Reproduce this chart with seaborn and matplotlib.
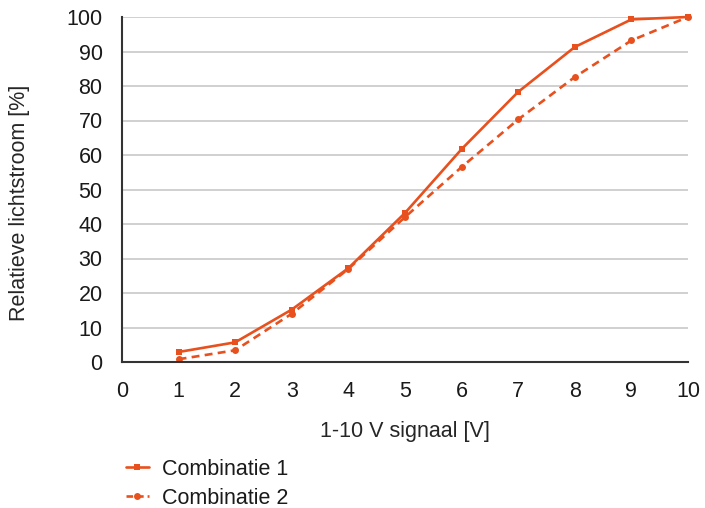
import matplotlib
matplotlib.use("Agg")
import matplotlib.pyplot as plt
import seaborn as sns
import pandas as pd
from matplotlib.lines import Line2D

signal = [1, 2, 3, 4, 5, 6, 7, 8, 9, 10]
combinatie_1 = [2.9, 5.7, 15.2, 27.2, 43.2, 61.7, 78.3, 91.3, 99.3, 100]
combinatie_2 = [0.8, 3.4, 14.0, 27.0, 42.0, 56.5, 70.3, 82.6, 93.2, 100]
series_names = ["Combinatie 1", "Combinatie 2"]
x_ticks = list(range(0, 11))
y_ticks = list(range(0, 101, 10))

df = pd.DataFrame({
    "x": signal * 2,
    "y": combinatie_1 + combinatie_2,
    "serie": [series_names[0]] * len(signal) + [series_names[1]] * len(signal),
})

sns.set_style("white")
plt.rcParams["font.family"] = ["Liberation Sans", "DejaVu Sans"]
plt.rcParams["text.color"] = "#1a1a1a"
plt.rcParams["xtick.color"] = "#1a1a1a"
plt.rcParams["ytick.color"] = "#1a1a1a"

color = "#E8501E"
fs = 15.5
fig = plt.figure(figsize=(7.05, 5.08), dpi=100)
ax = fig.add_axes([122 / 705, 1 - 362 / 508, (688 - 122) / 705, (362 - 17) / 508])

sns.lineplot(data=df, x="x", y="y", hue="serie", style="serie",
             palette=[color, color], dashes=[(None, None), (3, 2)],
             markers=["s", "o"], markersize=5, markeredgewidth=0,
             linewidth=1.9, ax=ax, legend=False)
for ln in ax.lines:
    ln.set_clip_on(False)

ax.set_xlim(0, 10)
ax.set_ylim(0, 100)
ax.set_xticks(x_ticks)
ax.set_yticks(y_ticks)
ax.tick_params(axis="x", labelsize=fs, length=6, width=1, color="#333333", direction="out", pad=8)
ax.tick_params(axis="y", labelsize=fs, length=5, width=1, color="#333333", direction="out", pad=9)
ax.yaxis.grid(True, color="#c8c8c8", linewidth=1.2)
ax.set_axisbelow(True)
for s in ["top", "right"]:
    ax.spines[s].set_visible(False)
for s in ["left", "bottom"]:
    ax.spines[s].set_color("#333333")
    ax.spines[s].set_linewidth(1.5)
ax.set_xlabel("1-10 V signaal [V]", fontsize=fs)
ax.set_ylabel("Relatieve lichtstroom [%]", fontsize=fs)
ax.yaxis.set_label_coords((20 - 122) / 566, (362 - 203) / 345)
ax.xaxis.set_label_coords(0.5, (362 - 432) / 345)
ax.xaxis.label.set_verticalalignment("center")
ax.yaxis.label.set_verticalalignment("center")

handles = [
    Line2D([], [], color=color, linewidth=1.9, marker="s", markersize=5, markeredgewidth=0),
    Line2D([], [], color=color, linewidth=1.9, linestyle=(0, (2.5, 1.5)), marker="o", markersize=5, markeredgewidth=0),
]
fig.legend(handles, series_names, loc="upper left", bbox_to_anchor=(126 / 705, 1 - 459 / 508),
           frameon=False, fontsize=fs, handlelength=1.05, handletextpad=0.6, labelspacing=0.35,
           borderaxespad=0, borderpad=0)

fig.savefig("out.png", dpi=100)
